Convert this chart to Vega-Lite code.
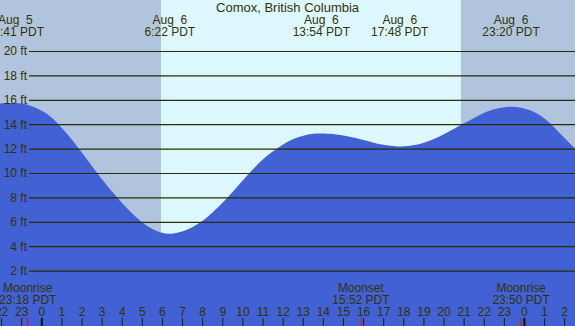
{
  "$schema": "https://vega.github.io/schema/vega-lite/v6.json",
  "width": 575,
  "height": 326,
  "autosize": {"type": "none"},
  "padding": 0,
  "background": "#ffffff",
  "config": {"view": {"stroke": null}, "font": "Liberation Sans"},
  "resolve": {"scale": {"color": "independent", "stroke": "independent", "strokeWidth": "independent"}},
  "datasets": {
    "periods": [
      {"start": -3, "end": 5.93, "period": "night"},
      {"start": 5.93, "end": 20.845, "period": "day"},
      {"start": 20.845, "end": 27, "period": "night"}
    ],
    "tide": [
      {"h": -2.1, "ft": 15.74}, {"h": -1.8, "ft": 15.77}, {"h": -1.317, "ft": 15.8}, {"h": -1.0, "ft": 15.76},
      {"h": -0.5, "ft": 15.53}, {"h": 0, "ft": 15.18}, {"h": 0.5, "ft": 14.62}, {"h": 1.0, "ft": 13.75},
      {"h": 1.5, "ft": 12.78}, {"h": 2.0, "ft": 11.7}, {"h": 2.5, "ft": 10.6}, {"h": 3.0, "ft": 9.5},
      {"h": 3.5, "ft": 8.5}, {"h": 4.0, "ft": 7.55}, {"h": 4.5, "ft": 6.7}, {"h": 5.0, "ft": 5.93},
      {"h": 5.5, "ft": 5.43}, {"h": 6.0, "ft": 5.1}, {"h": 6.367, "ft": 5.02}, {"h": 7.0, "ft": 5.22},
      {"h": 7.5, "ft": 5.6}, {"h": 8.0, "ft": 6.1}, {"h": 8.5, "ft": 6.8}, {"h": 9.0, "ft": 7.6},
      {"h": 9.5, "ft": 8.5}, {"h": 10.0, "ft": 9.45}, {"h": 10.5, "ft": 10.35}, {"h": 11.0, "ft": 11.2},
      {"h": 11.5, "ft": 11.85}, {"h": 12.0, "ft": 12.4}, {"h": 12.5, "ft": 12.85}, {"h": 13.0, "ft": 13.12},
      {"h": 13.5, "ft": 13.27}, {"h": 13.9, "ft": 13.3}, {"h": 14.5, "ft": 13.25}, {"h": 15.0, "ft": 13.12},
      {"h": 15.5, "ft": 12.95}, {"h": 16.0, "ft": 12.75}, {"h": 16.5, "ft": 12.52}, {"h": 17.0, "ft": 12.35},
      {"h": 17.5, "ft": 12.23}, {"h": 17.8, "ft": 12.2}, {"h": 18.5, "ft": 12.3}, {"h": 19.0, "ft": 12.5},
      {"h": 19.5, "ft": 12.82}, {"h": 20.0, "ft": 13.22}, {"h": 20.5, "ft": 13.66}, {"h": 21.0, "ft": 14.12},
      {"h": 21.5, "ft": 14.55}, {"h": 22.0, "ft": 15.0}, {"h": 22.5, "ft": 15.3}, {"h": 23.0, "ft": 15.45},
      {"h": 23.37, "ft": 15.5}, {"h": 24.0, "ft": 15.35}, {"h": 24.5, "ft": 15.05}, {"h": 25.0, "ft": 14.55},
      {"h": 25.5, "ft": 13.78}, {"h": 26.0, "ft": 12.88}, {"h": 26.6, "ft": 11.9}
    ],
    "grid": [
      {"ft": 2, "label": "2 ft"}, {"ft": 4, "label": "4 ft"}, {"ft": 6, "label": "6 ft"}, {"ft": 8, "label": "8 ft"},
      {"ft": 10, "label": "10 ft"}, {"ft": 12, "label": "12 ft"}, {"ft": 14, "label": "14 ft"},
      {"ft": 16, "label": "16 ft"}, {"ft": 18, "label": "18 ft"}, {"ft": 20, "label": "20 ft"}
    ],
    "hours": [
      {"h": -2, "label": "22", "kind": "hour"}, {"h": -1, "label": "23", "kind": "hour"},
      {"h": 0, "label": "0", "kind": "midnight"}, {"h": 1, "label": "1", "kind": "hour"},
      {"h": 2, "label": "2", "kind": "hour"}, {"h": 3, "label": "3", "kind": "hour"},
      {"h": 4, "label": "4", "kind": "hour"}, {"h": 5, "label": "5", "kind": "hour"},
      {"h": 6, "label": "6", "kind": "hour"}, {"h": 7, "label": "7", "kind": "hour"},
      {"h": 8, "label": "8", "kind": "hour"}, {"h": 9, "label": "9", "kind": "hour"},
      {"h": 10, "label": "10", "kind": "hour"}, {"h": 11, "label": "11", "kind": "hour"},
      {"h": 12, "label": "12", "kind": "hour"}, {"h": 13, "label": "13", "kind": "hour"},
      {"h": 14, "label": "14", "kind": "hour"}, {"h": 15, "label": "15", "kind": "hour"},
      {"h": 16, "label": "16", "kind": "hour"}, {"h": 17, "label": "17", "kind": "hour"},
      {"h": 18, "label": "18", "kind": "hour"}, {"h": 19, "label": "19", "kind": "hour"},
      {"h": 20, "label": "20", "kind": "hour"}, {"h": 21, "label": "21", "kind": "hour"},
      {"h": 22, "label": "22", "kind": "hour"}, {"h": 23, "label": "23", "kind": "hour"},
      {"h": 24, "label": "0", "kind": "midnight"}, {"h": 25, "label": "1", "kind": "hour"},
      {"h": 26, "label": "2", "kind": "hour"}
    ],
    "moonticks": [
      {"h": -0.7, "kind": "moon"}, {"h": 15.867, "kind": "moon"}, {"h": 23.833, "kind": "moon"}
    ],
    "events": [
      {"h": -1.317, "label": "Aug\u00a0\u00a05\n22:41 PDT"},
      {"h": 6.367, "label": "Aug\u00a0\u00a06\n6:22 PDT"},
      {"h": 13.9, "label": "Aug\u00a0\u00a06\n13:54 PDT"},
      {"h": 17.8, "label": "Aug\u00a0\u00a06\n17:48 PDT"},
      {"h": 23.333, "label": "Aug\u00a0\u00a06\n23:20 PDT"}
    ],
    "moon": [
      {"h": -0.7, "label": "Moonrise\n23:18 PDT"},
      {"h": 15.867, "label": "Moonset\n15:52 PDT"},
      {"h": 23.833, "label": "Moonrise\n23:50 PDT"}
    ],
    "titles": [
      {"h": 12.22, "label": "Comox, British Columbia"}
    ]
  },
  "layer": [
    {
      "data": {"name": "periods"},
      "mark": {"type": "rect", "clip": true},
      "encoding": {
        "x": {"field": "start", "type": "quantitative", "scale": {"domain": [-2.079, 26.514], "nice": false, "zero": false}, "axis": null},
        "x2": {"field": "end"},
        "color": {"field": "period", "type": "nominal", "scale": {"domain": ["night", "day"], "range": ["#b0c4de", "#ddf7ff"]}, "legend": null}
      }
    },
    {
      "data": {"name": "tide"},
      "mark": {"type": "area", "clip": true, "interpolate": "basis", "color": "#4161d4"},
      "encoding": {
        "x": {"field": "h", "type": "quantitative", "axis": null},
        "y": {"field": "ft", "type": "quantitative", "scale": {"domain": [-2.5, 24.221], "nice": false, "zero": false}, "axis": null},
        "y2": {"datum": -2.5}
      }
    },
    {
      "data": {"name": "grid"},
      "mark": {"type": "rule", "color": "#2b2b00", "strokeWidth": 1.2},
      "encoding": {
        "x": {"datum": -0.636, "axis": null},
        "x2": {"datum": 26.6},
        "y": {"field": "ft", "type": "quantitative", "axis": null}
      }
    },
    {
      "data": {"name": "grid"},
      "mark": {"type": "text", "fontSize": 12, "align": "right", "baseline": "middle", "color": "#333300", "font": "Liberation Sans"},
      "encoding": {
        "x": {"datum": -0.736, "axis": null},
        "y": {"field": "ft", "type": "quantitative", "axis": null},
        "text": {"field": "label"}
      }
    },
    {
      "data": {"name": "hours"},
      "mark": {"type": "rule", "clip": true},
      "encoding": {
        "x": {"field": "h", "type": "quantitative", "axis": null},
        "y": {"datum": -1.84, "axis": null},
        "y2": {"datum": -2.7},
        "stroke": {"field": "kind", "type": "nominal", "scale": {"domain": ["hour", "midnight", "moon"], "range": ["#222200", "#111100", "#ff0000"]}, "legend": null},
        "strokeWidth": {"field": "kind", "type": "ordinal", "scale": {"domain": ["hour", "midnight", "moon"], "range": [1, 3, 1]}, "legend": null}
      }
    },
    {
      "data": {"name": "moonticks"},
      "mark": {"type": "rule", "clip": true, "color": "#ff0000", "strokeWidth": 1},
      "encoding": {
        "x": {"field": "h", "type": "quantitative", "axis": null},
        "y": {"datum": -1.84, "axis": null},
        "y2": {"datum": -2.7}
      }
    },
    {
      "data": {"name": "hours"},
      "mark": {"type": "text", "fontSize": 12, "align": "center", "baseline": "alphabetic", "color": "#333300", "font": "Liberation Sans"},
      "encoding": {
        "x": {"field": "h", "type": "quantitative", "axis": null},
        "y": {"datum": -1.68, "axis": null},
        "text": {"field": "label"}
      }
    },
    {
      "data": {"name": "events"},
      "mark": {"type": "text", "lineBreak": "\n", "lineHeight": 12, "fontSize": 12, "align": "center", "baseline": "middle", "color": "#333300", "font": "Liberation Sans"},
      "encoding": {
        "x": {"field": "h", "type": "quantitative", "axis": null},
        "y": {"datum": 22.57, "axis": null},
        "text": {"field": "label"}
      }
    },
    {
      "data": {"name": "moon"},
      "mark": {"type": "text", "lineBreak": "\n", "lineHeight": 12, "fontSize": 12, "align": "center", "baseline": "middle", "color": "#333300", "font": "Liberation Sans"},
      "encoding": {
        "x": {"field": "h", "type": "quantitative", "axis": null},
        "y": {"datum": 0.6, "axis": null},
        "text": {"field": "label"}
      }
    },
    {
      "data": {"name": "titles"},
      "mark": {"type": "text", "fontSize": 13, "align": "center", "baseline": "middle", "color": "#333300", "font": "Liberation Sans"},
      "encoding": {
        "x": {"field": "h", "type": "quantitative", "axis": null},
        "y": {"datum": 23.55, "axis": null},
        "text": {"field": "label"}
      }
    }
  ]
}
